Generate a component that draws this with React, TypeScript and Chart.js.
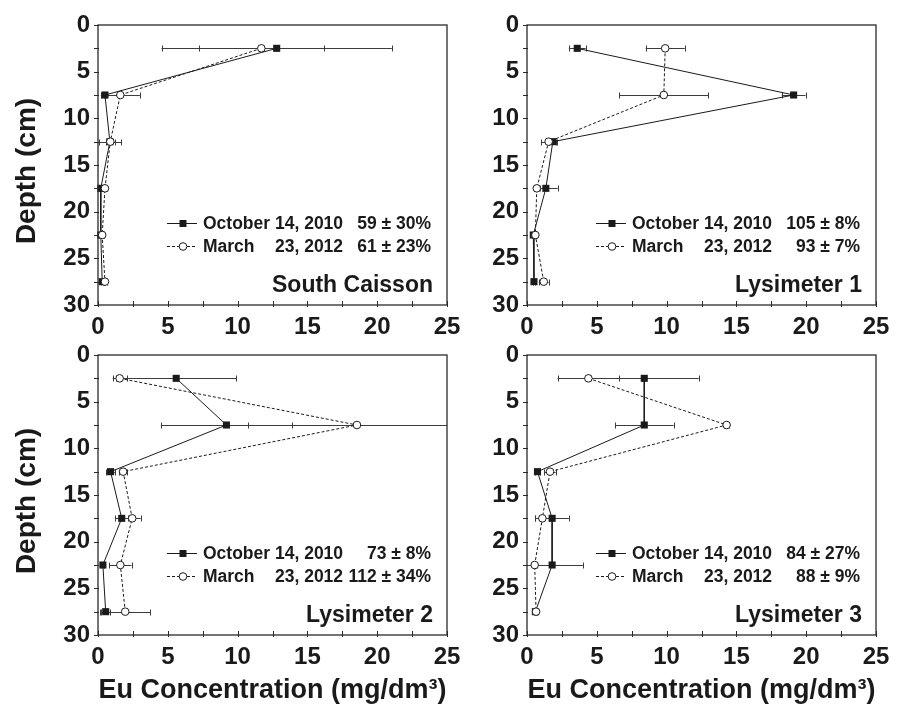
import React, { useEffect, useRef } from 'react';
import { Chart, registerables } from 'chart.js';

Chart.register(...registerables);

// ---------- data ----------
const depths = [2.5, 7.5, 12.5, 17.5, 22.5, 27.5];
const depthTicks = [0, 2.5, 5, 7.5, 10, 12.5, 15, 17.5, 20, 22.5, 25, 27.5, 30];
const concTicks = [0, 2.5, 5, 7.5, 10, 12.5, 15, 17.5, 20, 22.5, 25];

const seriesNames = ['October 14, 2010', 'March 23, 2012'];
const panelTitles = ['South Caisson', 'Lysimeter 1', 'Lysimeter 2', 'Lysimeter 3'];
const recoveryOct = ['59 ± 30%', '105 ± 8%', '73 ± 8%', '84 ± 27%'];
const recoveryMar = ['61 ± 23%', '93 ± 7%', '112 ± 34%', '88 ± 9%'];

const octSouthCaisson = [12.8, 0.5, 0.85, 0.2, 0.2, 0.3];
const octSouthCaissonErr = [8.25, 0.1, 0.8, 0.1, 0.1, 0.1];
const marSouthCaisson = [11.7, 1.6, 0.88, 0.5, 0.3, 0.5];
const marSouthCaissonErr = [4.5, 1.4, 0.33, 0.15, 0.12, 0.15];

const octLys1 = [3.6, 19.1, 1.85, 1.35, 0.45, 0.5];
const octLys1Err = [0.6, 0.85, 0.3, 0.85, 0.1, 0.1];
const marLys1 = [9.9, 9.8, 1.55, 0.7, 0.6, 1.2];
const marLys1Err = [1.4, 3.2, 0.55, 0.2, 0.15, 0.35];

const octLys2 = [5.6, 9.2, 0.9, 1.7, 0.35, 0.55];
const octLys2Err = [4.3, 4.7, 0.3, 0.45, 0.1, 0.3];
const marLys2 = [1.55, 18.55, 1.8, 2.45, 1.6, 1.95];
const marLys2Err = [0.5, 7.8, 0.3, 0.6, 0.8, 1.8];

const octLys3 = [8.4, 8.4, 0.75, 1.8, 1.8, 0.6];
const octLys3Err = [3.9, 2.1, 0.2, 1.2, 2.2, 0.1];
const marLys3 = [4.4, 14.3, 1.65, 1.1, 0.55, 0.65];
const marLys3Err = [2.2, 0.2, 0.4, 0.5, 0.15, 0.1];

const yAxisTitle = 'Depth (cm)';
const xAxisTitle = 'Eu Concentration (mg/dm³)';

// ---------- styling ----------
const FONT = '"Liberation Sans", Arial, Helvetica, sans-serif';
const INK = '#1a1a1a';
const W = 908;
const H = 712;

type Area = { l: number; t: number; r: number; b: number };
type PanelCfg = {
  title: string;
  oct: number[];
  octErr: number[];
  mar: number[];
  marErr: number[];
  recOct: string;
  recMar: string;
  area: Area;
  yTitle: boolean;
  xTitle: boolean;
};

const panels: PanelCfg[] = [
  {
    title: panelTitles[0], oct: octSouthCaisson, octErr: octSouthCaissonErr, mar: marSouthCaisson, marErr: marSouthCaissonErr,
    recOct: recoveryOct[0], recMar: recoveryMar[0], area: { l: 98, t: 25, r: 447, b: 305 }, yTitle: true, xTitle: false,
  },
  {
    title: panelTitles[1], oct: octLys1, octErr: octLys1Err, mar: marLys1, marErr: marLys1Err,
    recOct: recoveryOct[1], recMar: recoveryMar[1], area: { l: 527, t: 25, r: 876, b: 305 }, yTitle: false, xTitle: false,
  },
  {
    title: panelTitles[2], oct: octLys2, octErr: octLys2Err, mar: marLys2, marErr: marLys2Err,
    recOct: recoveryOct[2], recMar: recoveryMar[2], area: { l: 98, t: 355, r: 447, b: 635 }, yTitle: true, xTitle: true,
  },
  {
    title: panelTitles[3], oct: octLys3, octErr: octLys3Err, mar: marLys3, marErr: marLys3Err,
    recOct: recoveryOct[3], recMar: recoveryMar[3], area: { l: 527, t: 355, r: 876, b: 635 }, yTitle: false, xTitle: true,
  },
];

function drawSquare(ctx: CanvasRenderingContext2D, x: number, y: number, s: number) {
  ctx.fillStyle = INK;
  ctx.fillRect(x - s / 2, y - s / 2, s, s);
}
function drawCircle(ctx: CanvasRenderingContext2D, x: number, y: number, r: number) {
  ctx.beginPath();
  ctx.arc(x, y, r, 0, Math.PI * 2);
  ctx.fillStyle = '#fff';
  ctx.fill();
  ctx.lineWidth = 1;
  ctx.strokeStyle = INK;
  ctx.setLineDash([]);
  ctx.stroke();
}

function makeDecor(p: PanelCfg) {
  return {
    id: 'panelDecor',
    beforeDatasetsDraw(chart: any) {
      const { ctx, chartArea: a, scales } = chart;
      const x = scales.x;
      const y = scales.y;
      ctx.save();
      ctx.beginPath();
      ctx.rect(a.left, a.top - 5, a.right - a.left, a.bottom - a.top + 10);
      ctx.clip();
      ctx.strokeStyle = '#3c3c3c';
      ctx.lineWidth = 1;
      ctx.setLineDash([]);
      chart.data.datasets.forEach((ds: any) => {
        const errs: number[] = ds.errors;
        ds.data.forEach((pt: any, i: number) => {
          const e = errs[i];
          const x1 = x.getPixelForValue(pt.x - e);
          const x2 = x.getPixelForValue(pt.x + e);
          const py = Math.round(y.getPixelForValue(pt.y)) + 0.5;
          ctx.beginPath();
          ctx.moveTo(x1, py);
          ctx.lineTo(x2, py);
          if (x1 >= a.left) {
            ctx.moveTo(Math.round(x1) + 0.5, py - 3);
            ctx.lineTo(Math.round(x1) + 0.5, py + 3);
          }
          if (x2 <= a.right) {
            ctx.moveTo(Math.round(x2) + 0.5, py - 3);
            ctx.lineTo(Math.round(x2) + 0.5, py + 3);
          }
          ctx.stroke();
        });
      });
      ctx.restore();
    },
    afterDraw(chart: any) {
      const { ctx, chartArea: a, scales } = chart;
      const x = scales.x;
      const y = scales.y;
      ctx.save();
      // frame
      ctx.strokeStyle = '#2a2a2a';
      ctx.lineWidth = 1.3;
      ctx.setLineDash([]);
      ctx.strokeRect(a.left, a.top, a.right - a.left, a.bottom - a.top);
      // tick marks
      ctx.lineWidth = 1;
      ctx.beginPath();
      depthTicks.forEach((v) => {
        const py = Math.round(y.getPixelForValue(v)) + 0.5;
        ctx.moveTo(a.left - 4, py);
        ctx.lineTo(a.left + 1, py);
      });
      concTicks.forEach((v) => {
        const px = Math.round(x.getPixelForValue(v)) + 0.5;
        ctx.moveTo(px, a.bottom - 4);
        ctx.lineTo(px, a.bottom + 2);
      });
      ctx.stroke();

      // legend
      const x0 = a.left + 69;
      const rows = [a.top + 198, a.top + 221];
      ctx.font = `bold 17.5px ${FONT}`;
      ctx.textBaseline = 'alphabetic';
      const textX = x0 + 36;
      const octW = ctx.measureText(seriesNames[0]).width;
      // row 1 : October (solid, filled square)
      ctx.strokeStyle = INK;
      ctx.lineWidth = 1;
      ctx.beginPath();
      ctx.moveTo(x0, rows[0] + 0.5);
      ctx.lineTo(x0 + 30, rows[0] + 0.5);
      ctx.stroke();
      drawSquare(ctx, x0 + 16, rows[0] + 0.5, 7);
      // row 2 : March (dashed, open circle)
      ctx.setLineDash([3, 2]);
      ctx.beginPath();
      ctx.moveTo(x0, rows[1] + 0.5);
      ctx.lineTo(x0 + 30, rows[1] + 0.5);
      ctx.stroke();
      ctx.setLineDash([]);
      drawCircle(ctx, x0 + 16, rows[1] + 0.5, 3.8);

      ctx.fillStyle = INK;
      ctx.textAlign = 'left';
      ctx.fillText(seriesNames[0], textX, rows[0] + 6);
      const sp = seriesNames[1].indexOf(' ');
      ctx.fillText(seriesNames[1].slice(0, sp), textX, rows[1] + 6);
      ctx.textAlign = 'right';
      ctx.fillText(seriesNames[1].slice(sp + 1), textX + octW, rows[1] + 6);
      ctx.fillText(p.recOct, a.right - 16, rows[0] + 6);
      ctx.fillText(p.recMar, a.right - 16, rows[1] + 6);

      // panel title
      ctx.font = `bold 23px ${FONT}`;
      ctx.textAlign = 'right';
      ctx.fillText(p.title, a.right - 14, a.top + 267);

      // y-axis title
      if (p.yTitle) {
        ctx.font = `bold 28px ${FONT}`;
        ctx.textAlign = 'center';
        ctx.textBaseline = 'middle';
        ctx.translate(27, (a.top + a.bottom) / 2 + 6);
        ctx.rotate(-Math.PI / 2);
        ctx.fillText(yAxisTitle, 0, 0);
      }
      ctx.restore();
    },
  };
}

function buildConfig(p: PanelCfg): any {
  const padLeft = p.yTitle ? 0 : p.area.l - 50;
  const yW = p.area.l - padLeft;
  const xH = p.xTitle ? H - p.area.b : 30;
  const padBottom = H - p.area.b - xH;
  const tickFont = { family: FONT, size: 24, weight: 'bold', lineHeight: 1 };
  return {
    type: 'scatter',
    data: {
      datasets: [
        {
          label: seriesNames[0],
          data: depths.map((d, i) => ({ x: p.oct[i], y: d })),
          errors: p.octErr,
          showLine: true,
          borderColor: INK,
          borderWidth: 1,
          pointStyle: 'rect',
          pointRadius: 5,
          pointBackgroundColor: INK,
          pointBorderColor: INK,
          pointBorderWidth: 0,
          clip: false,
          order: 1,
        },
        {
          label: seriesNames[1],
          data: depths.map((d, i) => ({ x: p.mar[i], y: d })),
          errors: p.marErr,
          showLine: true,
          borderColor: INK,
          borderWidth: 1,
          borderDash: [3, 2],
          pointStyle: 'circle',
          pointRadius: 3.8,
          pointBackgroundColor: '#ffffff',
          pointBorderColor: INK,
          pointBorderWidth: 1,
          clip: false,
          order: 0,
        },
      ],
    },
    options: {
      responsive: false,
      animation: false,
      events: [],
      layout: { padding: { left: padLeft, top: p.area.t, right: W - p.area.r, bottom: padBottom } },
      plugins: { legend: { display: false }, tooltip: { enabled: false } },
      scales: {
        x: {
          type: 'linear',
          min: 0,
          max: 25,
          afterBuildTicks: (s: any) => {
            s.ticks = concTicks.map((v) => ({ value: v }));
          },
          afterFit: (s: any) => {
            s.height = xH;
          },
          ticks: {
            autoSkip: false,
            maxRotation: 0,
            padding: 10,
            color: INK,
            font: tickFont,
            callback: (v: number) => (v % 5 === 0 ? String(v) : ''),
          },
          grid: { display: false, drawTicks: false },
          border: { display: false },
          title: {
            display: p.xTitle,
            text: xAxisTitle,
            color: INK,
            font: { family: FONT, size: 27, weight: 'bold', lineHeight: 1 },
            padding: { top: 0, bottom: 8 },
          },
        },
        y: {
          type: 'linear',
          min: 0,
          max: 30,
          reverse: true,
          afterBuildTicks: (s: any) => {
            s.ticks = depthTicks.map((v) => ({ value: v }));
          },
          afterFit: (s: any) => {
            s.width = yW;
          },
          ticks: {
            autoSkip: false,
            padding: 8,
            color: INK,
            font: tickFont,
            callback: (v: number) => (v % 5 === 0 ? String(v) : ''),
          },
          grid: { display: false, drawTicks: false },
          border: { display: false },
        },
      },
    },
    plugins: [makeDecor(p)],
  };
}

function Panel({ cfg }: { cfg: PanelCfg }) {
  const ref = useRef<HTMLCanvasElement>(null);
  useEffect(() => {
    if (!ref.current) return;
    const chart = new Chart(ref.current, buildConfig(cfg));
    return () => chart.destroy();
  }, [cfg]);
  return (
    <canvas
      ref={ref}
      width={W}
      height={H}
      style={{ position: 'absolute', left: 0, top: 0, width: W, height: H }}
    />
  );
}

export default function App() {
  return (
    <div style={{ position: 'absolute', left: 0, top: 0, width: W, height: H, background: '#ffffff', overflow: 'hidden' }}>
      {panels.map((p) => (
        <Panel key={p.title} cfg={p} />
      ))}
    </div>
  );
}
